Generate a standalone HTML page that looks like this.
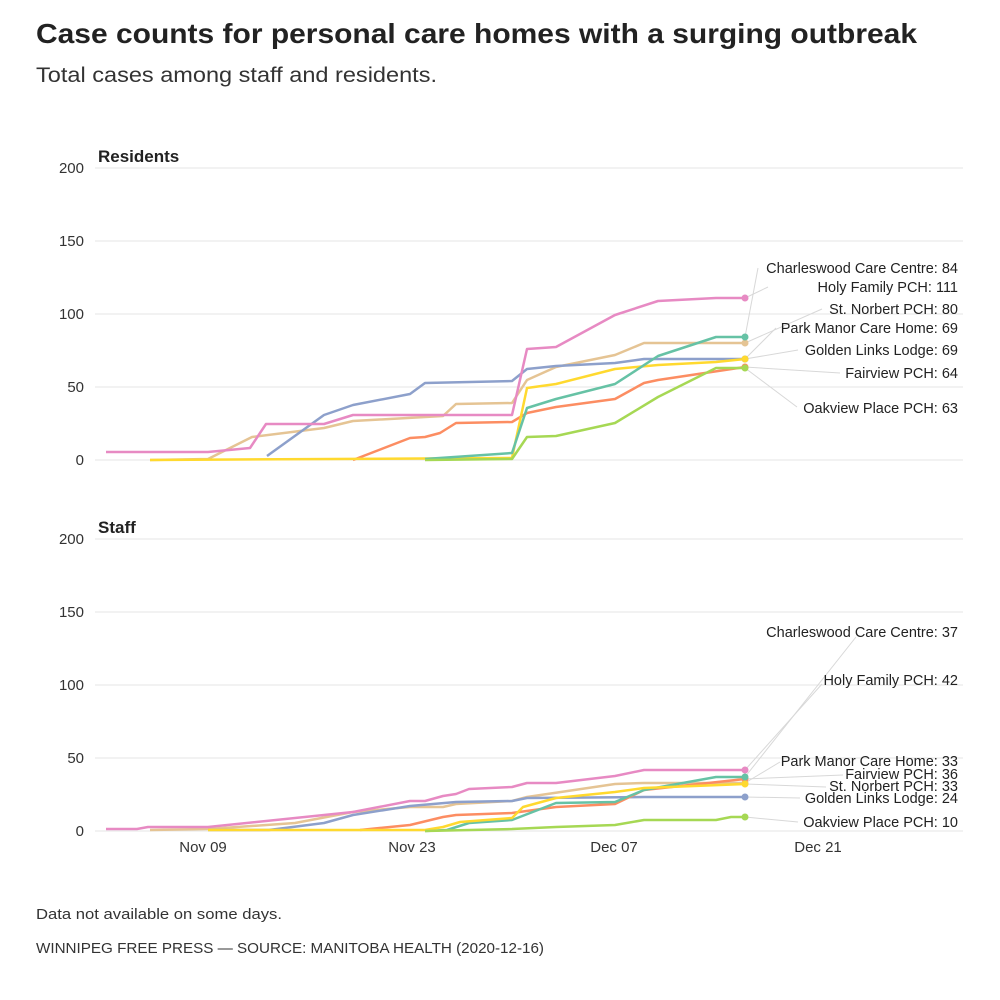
<!DOCTYPE html>
<html><head><meta charset="utf-8"><style>
html,body{margin:0;padding:0;background:#fff;}
svg{display:block;}
</style></head><body>
<svg width="1000" height="1000" viewBox="0 0 1000 1000" xmlns="http://www.w3.org/2000/svg">
<rect width="1000" height="1000" fill="#fff"/>
<g font-family="'Liberation Sans', 'DejaVu Sans', sans-serif">
<text x="36" y="43" font-size="28" font-weight="bold" fill="#222" textLength="881" lengthAdjust="spacingAndGlyphs">Case counts for personal care homes with a surging outbreak</text>
<text x="36" y="82" font-size="21" fill="#333" textLength="401" lengthAdjust="spacingAndGlyphs">Total cases among staff and residents.</text>

<g stroke="#e6e6e6" stroke-width="1">
<line x1="95" x2="963" y1="168" y2="168"/><line x1="95" x2="963" y1="241" y2="241"/><line x1="95" x2="963" y1="314" y2="314"/><line x1="95" x2="963" y1="387" y2="387"/><line x1="95" x2="963" y1="460" y2="460"/>
<line x1="95" x2="963" y1="539" y2="539"/><line x1="95" x2="963" y1="612" y2="612"/><line x1="95" x2="963" y1="685" y2="685"/><line x1="95" x2="963" y1="758" y2="758"/><line x1="95" x2="963" y1="831" y2="831"/>
</g>
<g font-size="15" fill="#333" text-anchor="end">
<text x="84" y="173">200</text><text x="84" y="246">150</text><text x="84" y="319">100</text><text x="84" y="392">50</text><text x="84" y="465">0</text>
<text x="84" y="544">200</text><text x="84" y="617">150</text><text x="84" y="690">100</text><text x="84" y="763">50</text><text x="84" y="836">0</text>
</g>
<text x="98" y="162" font-size="17" font-weight="bold" fill="#222">Residents</text>
<text x="98" y="533" font-size="17" font-weight="bold" fill="#222">Staff</text>
<g font-size="15" fill="#333" text-anchor="middle">
<text x="203" y="852">Nov 09</text><text x="412" y="852">Nov 23</text><text x="614" y="852">Dec 07</text><text x="818" y="852">Dec 21</text>
</g>

<g stroke="#d8d8d8" stroke-width="1" fill="none">
<line x1="745" y1="337" x2="758" y2="268"/>
<line x1="745" y1="298" x2="768" y2="287"/>
<line x1="745" y1="343" x2="822" y2="309"/>
<line x1="745" y1="359" x2="776" y2="328"/>
<line x1="745" y1="359" x2="798" y2="350"/>
<line x1="745" y1="367" x2="840" y2="373"/>
<line x1="745" y1="368" x2="797" y2="407"/>
<line x1="745" y1="777" x2="856" y2="637"/>
<line x1="745" y1="770" x2="822" y2="684"/>
<line x1="745" y1="783" x2="780" y2="762"/>
<line x1="745" y1="779" x2="843" y2="775"/>
<line x1="745" y1="784" x2="826" y2="787"/>
<line x1="745" y1="797" x2="800" y2="798"/>
<line x1="745" y1="817" x2="798" y2="822"/>
</g>

<g fill="none" stroke-width="2.5" stroke-linejoin="round">
<polyline stroke="#e5c494" points="150,460 208,459 252,437 324,428 353,421 443,416 456,404 512,403 527,380 556,367 615,355 644,343 745,343"/>
<polyline stroke="#8da0cb" points="267,456 324,415 353,405 410,394 425,383 512,381 527,369 556,366 615,363 644,359 745,359"/>
<polyline stroke="#fc8d62" points="353,460 410,438 425,437 440,433 456,423 512,422 527,413 556,407 615,399 644,383 658,380 745,367"/>
<polyline stroke="#ffd92f" points="150,460 512,458 527,388 556,384 615,369 658,365 716,362 745,359"/>
<polyline stroke="#66c2a5" points="425,459 512,453 527,408 556,399 615,384 658,356 716,337 745,337"/>
<polyline stroke="#a6d854" points="425,460 512,459 527,437 556,436 615,423 658,397 716,368 745,368"/>
<polyline stroke="#e78ac3" points="106,452 208,452 250,448 266,424 324,424 353,415 512,415 527,349 556,347 615,315 658,301 716,298 745,298"/>
<polyline stroke="#e5c494" points="150,830 208,829 295,823 353,812 410,807 443,807 456,804 512,801 527,797 615,784 644,783 745,783"/>
<polyline stroke="#8da0cb" points="208,830 269,830 324,823 353,815 410,806 456,802 512,801 527,798 644,797 745,797"/>
<polyline stroke="#fc8d62" points="360,830 410,825 443,817 456,815 512,813 556,807 615,804 644,790 745,779"/>
<polyline stroke="#66c2a5" points="425,831 447,830 469,823 512,820 556,803 615,802 644,790 716,777 745,777"/>
<polyline stroke="#ffd92f" points="208,830 425,830 443,827 460,822 512,818 523,807 556,798 615,792 644,788 745,784"/>
<polyline stroke="#a6d854" points="425,831 512,829 556,827 615,825 644,820 716,820 731,817 745,817"/>
<polyline stroke="#e78ac3" points="106,829 137,829 148,827 208,827 353,812 410,801 425,801 443,796 456,794 469,789 512,787 527,783 556,783 615,776 644,770 745,770"/>
</g>
<g>
<circle cx="745" cy="343" r="3.5" fill="#e5c494"/><circle cx="745" cy="359" r="3.5" fill="#8da0cb"/><circle cx="745" cy="367" r="3.5" fill="#fc8d62"/><circle cx="745" cy="359" r="3.5" fill="#ffd92f"/><circle cx="745" cy="337" r="3.5" fill="#66c2a5"/><circle cx="745" cy="368" r="3.5" fill="#a6d854"/><circle cx="745" cy="298" r="3.5" fill="#e78ac3"/>
<circle cx="745" cy="783" r="3.5" fill="#e5c494"/><circle cx="745" cy="797" r="3.5" fill="#8da0cb"/><circle cx="745" cy="779" r="3.5" fill="#fc8d62"/><circle cx="745" cy="777" r="3.5" fill="#66c2a5"/><circle cx="745" cy="784" r="3.5" fill="#ffd92f"/><circle cx="745" cy="817" r="3.5" fill="#a6d854"/><circle cx="745" cy="770" r="3.5" fill="#e78ac3"/>
</g>

<g font-size="14.5" fill="#222" text-anchor="end">
<text x="958" y="273">Charleswood Care Centre: 84</text>
<text x="958" y="292">Holy Family PCH: 111</text>
<text x="958" y="314">St. Norbert PCH: 80</text>
<text x="958" y="333">Park Manor Care Home: 69</text>
<text x="958" y="355">Golden Links Lodge: 69</text>
<text x="958" y="378">Fairview PCH: 64</text>
<text x="958" y="413">Oakview Place PCH: 63</text>
<text x="958" y="637">Charleswood Care Centre: 37</text>
<text x="958" y="685">Holy Family PCH: 42</text>
<text x="958" y="766">Park Manor Care Home: 33</text>
<text x="958" y="779">Fairview PCH: 36</text>
<text x="958" y="791">St. Norbert PCH: 33</text>
<text x="958" y="803">Golden Links Lodge: 24</text>
<text x="958" y="827">Oakview Place PCH: 10</text>
</g>

<text x="36" y="919" font-size="15" fill="#333" textLength="246" lengthAdjust="spacingAndGlyphs">Data not available on some days.</text>
<text x="36" y="953" font-size="15" fill="#333" textLength="508" lengthAdjust="spacingAndGlyphs">WINNIPEG FREE PRESS — SOURCE: MANITOBA HEALTH (2020-12-16)</text>
</g>
</svg>
</body></html>
